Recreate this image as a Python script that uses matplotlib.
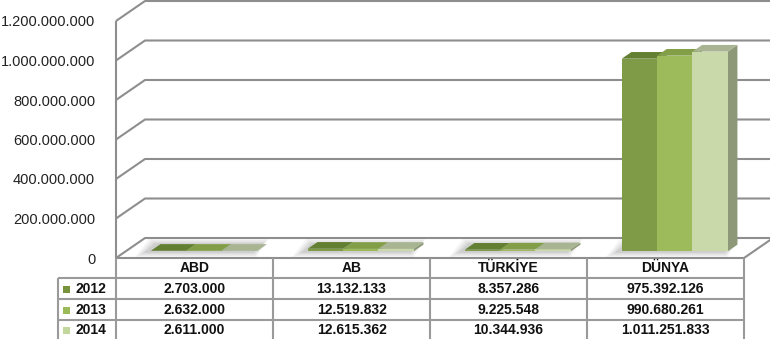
import numpy as np
import matplotlib
matplotlib.use("Agg")
import matplotlib.pyplot as plt
from matplotlib.patches import Polygon
from matplotlib.ticker import FuncFormatter

# ======= Data =======
categories = ["ABD", "AB", "TÜRKİYE", "DÜNYA"]
years = ["2012", "2013", "2014"]
v2012 = [2703000, 13132133, 8357286, 975392126]
v2013 = [2632000, 12519832, 9225548, 990680261]
v2014 = [2611000, 12615362, 10344936, 1011251833]
series = [v2012, v2013, v2014]
yticks = [0, 200e6, 400e6, 600e6, 800e6, 1000e6, 1200e6]

front_cols = ["#7f9b48", "#9dbb5b", "#c9d9aa"]
top_cols = ["#637f32", "#829f48", "#a9b592"]
side_col = "#8c9877"
legend_cols = ["#77933c", "#9bbb59", "#c3d69b"]
grid_col = "#8e8e8e"

plt.rcParams['font.family'] = ['Liberation Sans', 'DejaVu Sans']

W, H = 770, 339
fig = plt.figure(figsize=(W / 100, H / 100), dpi=100)

# plot area (front plane) in pixels
x_left, x_right, y_zero, y_top = 116, 744, 258, 21
ax = fig.add_axes([x_left / W, (H - y_zero) / H, (x_right - x_left) / W, (y_zero - y_top) / H])
ax.set_xlim(0, 4)
ax.set_ylim(0, 1.2e9)

SX = 4 / (x_right - x_left)          # category units per px
SY = 1.2e9 / (y_zero - y_top)        # value units per px
DX, DY = 29 * SX, 20 * SY            # wall depth

for s in ax.spines.values():
    s.set_visible(False)
ax.set_xticks([])
ax.set_yticks(yticks)
ax.yaxis.set_major_formatter(FuncFormatter(lambda v, p: f"{v:,.0f}".replace(",", ".")))
ax.tick_params(axis='y', length=0, pad=15, labelsize=10.5, colors="#222222")

# ======= walls and gridlines =======
kw = dict(color=grid_col, lw=1.5, clip_on=False, solid_capstyle='butt')
ax.plot([0, 0], [0, 1.2e9], **kw)
for t in yticks:
    ax.plot([0, DX, 4 + DX + 0.1], [t, t + DY, t + DY], **kw)
ax.plot([0, 4, 4 + DX], [0, 0, DY], **kw)

# ======= bars =======
bw = 0.225
gap0 = 0.16
ddx, ddy = DX / 3, DY / 3
for c in range(len(categories)):
    # soft shadow on floor (drawn a bit to the left / front)
    sx0 = c + gap0 + ddx - 4 * SX
    sx1 = sx0 + 3 * bw
    for k, a in [(4, 0.07), (3, 0.09), (2, 0.11), (1, 0.14)]:
        e = k * 3 * SX
        ey = k * 1.5 * SY
        shadow = Polygon([(sx0 - e, ddy - ey), (sx1 + e * 0.3, ddy - ey),
                          (sx1 + ddx + e * 0.5, 2 * ddy + ey), (sx0 + ddx - e * 0.6, 2 * ddy + ey)],
                         closed=True, facecolor="#7a7a7a", edgecolor='none', alpha=a,
                         clip_on=False, zorder=2)
        ax.add_patch(shadow)
    for i, vals in enumerate(series):
        v = vals[c]
        x0 = c + gap0 + i * bw + ddx
        y0 = ddy
        front = Polygon([(x0, y0), (x0 + bw, y0), (x0 + bw, y0 + v), (x0, y0 + v)],
                        closed=True, facecolor=front_cols[i], edgecolor='none', clip_on=False, zorder=3)
        top = Polygon([(x0, y0 + v), (x0 + bw, y0 + v), (x0 + bw + ddx, y0 + v + ddy), (x0 + ddx, y0 + v + ddy)],
                      closed=True, facecolor=top_cols[i], edgecolor='none', clip_on=False, zorder=3)
        side = Polygon([(x0 + bw, y0), (x0 + bw + ddx, y0 + ddy), (x0 + bw + ddx, y0 + v + ddy), (x0 + bw, y0 + v)],
                       closed=True, facecolor=side_col, edgecolor='none', clip_on=False, zorder=3)
        ax.add_patch(side)
        ax.add_patch(front)
        ax.add_patch(top)

# ======= data table =======
tab_left = 58
tab = fig.add_axes([tab_left / W, 0, (x_right - tab_left) / W, (H - y_zero) / H])
tab.set_xlim(-(x_left - tab_left) / 157, 4)
tab.set_ylim(H - y_zero, 0)
tab.axis('off')
row_edges = [0, 20, 41, 62, 81]
lkw = dict(color="#9a9a9a", lw=1.5, clip_on=False, solid_capstyle='butt')
xl = tab.get_xlim()[0]
for c in range(5):
    tab.plot([c, c], [0, 81], **lkw)
tab.plot([xl, xl], [20, 81], **lkw)
for r in row_edges[1:4]:
    tab.plot([xl, 4], [r, r], **lkw)

tkw = dict(ha='center', va='center', fontsize=10, fontweight='bold', color="#111111")
for c, name in enumerate(categories):
    tab.text(c + 0.5, 10.5, name, **tkw)
    for i, vals in enumerate(series):
        yc = (row_edges[i + 1] + row_edges[i + 2]) / 2 + 0.5
        tab.text(c + 0.5, yc, f"{vals[c]:,}".replace(",", "."), **tkw)

for i, yr in enumerate(years):
    yc = (row_edges[i + 1] + row_edges[i + 2]) / 2 + 0.5
    tab.add_patch(Polygon([(xl + 5 / 157, yc - 3.5), (xl + 12 / 157, yc - 3.5),
                           (xl + 12 / 157, yc + 3.5), (xl + 5 / 157, yc + 3.5)],
                          closed=True, facecolor=legend_cols[i], edgecolor='none', clip_on=False))
    tab.text(xl + 17 / 157, yc, yr, ha='left', va='center', fontsize=10, fontweight='bold', color="#111111")

fig.savefig("out.png", dpi=100)
